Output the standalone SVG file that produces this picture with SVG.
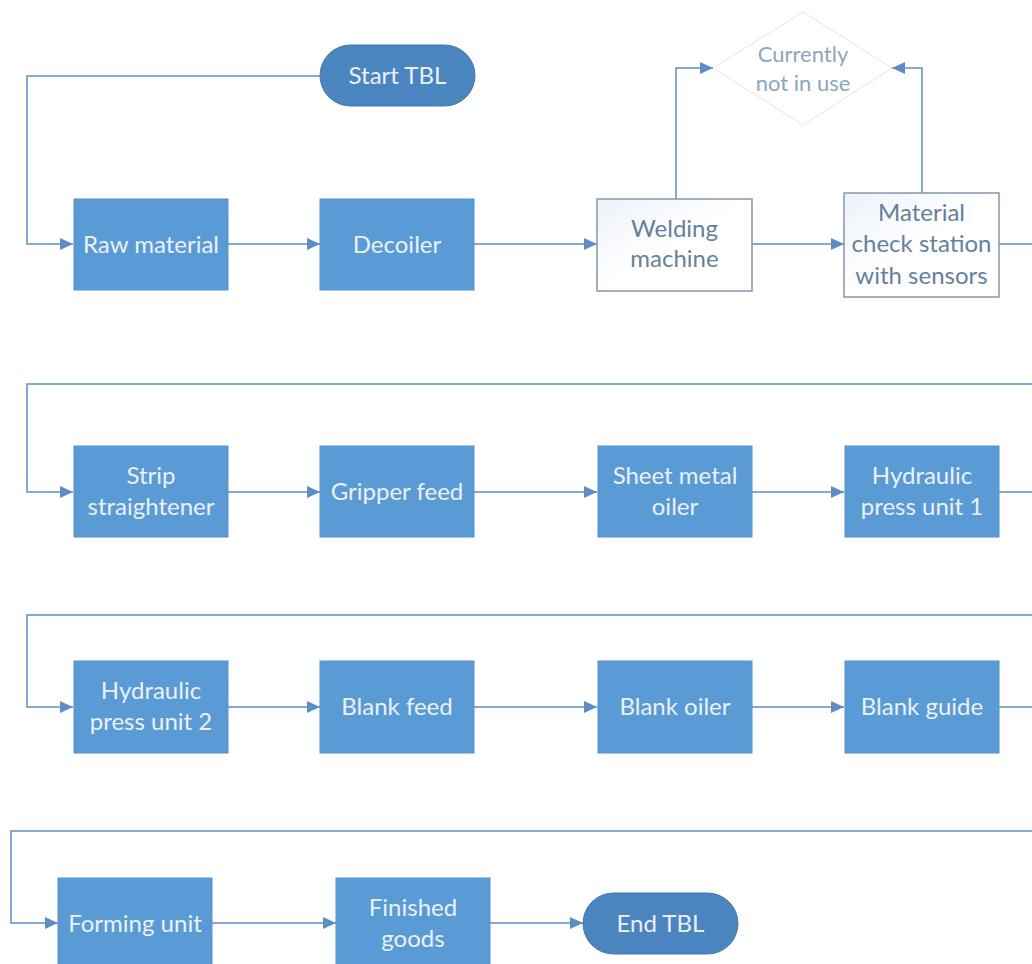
<svg xmlns="http://www.w3.org/2000/svg" width="1032" height="964" viewBox="0 0 1032 964">
  <style>
    .box { fill: #5B9BD5; stroke: #5592CC; stroke-width: 1; }
    .pill { fill: #4A85C0; stroke: #4579AE; stroke-width: 1; }
    .plain { fill: url(#paleFill); stroke: #8398B0; stroke-width: 1.5; }
    .diamond { fill: #FFFFFF; stroke: #E4E4E4; stroke-width: 1; }
    .lbl { font-family: Lato, "Liberation Sans", sans-serif; font-size: 24px; fill: #EAF1F9; text-anchor: middle; }
    .lbl-dark { font-family: Lato, "Liberation Sans", sans-serif; font-size: 24px; fill: #66809B; text-anchor: middle; }
    .lbl-faint { font-family: Lato, "Liberation Sans", sans-serif; font-size: 22px; fill: #8EA5BE; text-anchor: middle; }
    .wire { fill: none; stroke: #5B8EC4; stroke-width: 1.5; }
  </style>
  <defs>
    <linearGradient id="paleFill" x1="0" y1="0" x2="1" y2="1">
      <stop offset="0" stop-color="#EDF2FA"/>
      <stop offset="0.5" stop-color="#FFFFFF"/>
      <stop offset="1" stop-color="#FFFFFF"/>
    </linearGradient>
    <marker id="tip" viewBox="0 0 13 12" refX="13" refY="6" markerWidth="13" markerHeight="12" markerUnits="userSpaceOnUse" orient="auto">
      <path d="M0,0 L13,6 L0,12 Z" fill="#5B8EC4"/>
    </marker>
  </defs>

  <rect width="1032" height="964" fill="#FFFFFF"/>

  <!-- connectors -->
  <g id="connectors">
    <!-- row 1 -->
    <path class="wire" d="M320,76 H27 V244 H73" marker-end="url(#tip)"/>
    <path class="wire" d="M228,244 H320" marker-end="url(#tip)"/>
    <path class="wire" d="M474,244 H597" marker-end="url(#tip)"/>
    <path class="wire" d="M676,199 V68 H713" marker-end="url(#tip)"/>
    <path class="wire" d="M752,244 H844" marker-end="url(#tip)"/>
    <path class="wire" d="M922,193 V68 H892" marker-end="url(#tip)"/>
    <path class="wire" d="M999,244 H1032"/>
    <!-- row 2 -->
    <path class="wire" d="M1032,384 H27 V492 H73" marker-end="url(#tip)"/>
    <path class="wire" d="M228,492 H320" marker-end="url(#tip)"/>
    <path class="wire" d="M474,492 H597" marker-end="url(#tip)"/>
    <path class="wire" d="M752,492 H844" marker-end="url(#tip)"/>
    <path class="wire" d="M999,492 H1032"/>
    <!-- row 3 -->
    <path class="wire" d="M1032,615 H27 V707 H73" marker-end="url(#tip)"/>
    <path class="wire" d="M228,707 H320" marker-end="url(#tip)"/>
    <path class="wire" d="M474,707 H597" marker-end="url(#tip)"/>
    <path class="wire" d="M752,707 H844" marker-end="url(#tip)"/>
    <path class="wire" d="M999,707 H1032"/>
    <!-- row 4 -->
    <path class="wire" d="M1032,831 H11 V923 H58" marker-end="url(#tip)"/>
    <path class="wire" d="M212,923 H336" marker-end="url(#tip)"/>
    <path class="wire" d="M490,923 H583" marker-end="url(#tip)"/>
  </g>

  <!-- row 1 -->
  <g id="start-tbl">
    <rect class="pill" x="320" y="45" width="155" height="61" rx="30.5"/>
    <text class="lbl" x="397.5" y="84">Start TBL</text>
  </g>
  <g id="raw-material">
    <rect class="box" x="74" y="199" width="154" height="91"/>
    <text class="lbl" x="151" y="253">Raw material</text>
  </g>
  <g id="decoiler">
    <rect class="box" x="320" y="199" width="154" height="91"/>
    <text class="lbl" x="397" y="253">Decoiler</text>
  </g>
  <g id="welding-machine">
    <rect class="plain" x="597" y="199" width="155" height="92"/>
    <text class="lbl-dark" x="674.5" y="237">Welding</text>
    <text class="lbl-dark" x="674.5" y="267">machine</text>
  </g>
  <g id="not-in-use">
    <polygon class="diamond" points="803,12 892,68 803,125 713,68"/>
    <text class="lbl-faint" x="803" y="62">Currently</text>
    <text class="lbl-faint" x="803" y="91">not in use</text>
  </g>
  <g id="material-check">
    <rect class="plain" x="844" y="193" width="155" height="104"/>
    <text class="lbl-dark" x="921.5" y="221">Material</text>
    <text class="lbl-dark" x="921.5" y="252">check station</text>
    <text class="lbl-dark" x="921.5" y="284">with sensors</text>
  </g>

  <!-- row 2 -->
  <g id="strip-straightener">
    <rect class="box" x="74" y="446" width="154" height="91"/>
    <text class="lbl" x="151" y="484">Strip</text>
    <text class="lbl" x="151" y="515">straightener</text>
  </g>
  <g id="gripper-feed">
    <rect class="box" x="320" y="446" width="154" height="91"/>
    <text class="lbl" x="397" y="500">Gripper feed</text>
  </g>
  <g id="sheet-metal-oiler">
    <rect class="box" x="598" y="446" width="154" height="91"/>
    <text class="lbl" x="675" y="484">Sheet metal</text>
    <text class="lbl" x="675" y="515">oiler</text>
  </g>
  <g id="hydraulic-press-1">
    <rect class="box" x="845" y="446" width="154" height="91"/>
    <text class="lbl" x="922" y="484">Hydraulic</text>
    <text class="lbl" x="922" y="515">press unit 1</text>
  </g>

  <!-- row 3 -->
  <g id="hydraulic-press-2">
    <rect class="box" x="74" y="661" width="154" height="92"/>
    <text class="lbl" x="151" y="699">Hydraulic</text>
    <text class="lbl" x="151" y="730">press unit 2</text>
  </g>
  <g id="blank-feed">
    <rect class="box" x="320" y="661" width="154" height="92"/>
    <text class="lbl" x="397" y="715">Blank feed</text>
  </g>
  <g id="blank-oiler">
    <rect class="box" x="598" y="661" width="154" height="92"/>
    <text class="lbl" x="675" y="715">Blank oiler</text>
  </g>
  <g id="blank-guide">
    <rect class="box" x="845" y="661" width="154" height="92"/>
    <text class="lbl" x="922" y="715">Blank guide</text>
  </g>

  <!-- row 4 -->
  <g id="forming-unit">
    <rect class="box" x="58" y="878" width="154" height="92"/>
    <text class="lbl" x="135" y="932">Forming unit</text>
  </g>
  <g id="finished-goods">
    <rect class="box" x="336" y="878" width="154" height="92"/>
    <text class="lbl" x="413" y="916">Finished</text>
    <text class="lbl" x="413" y="947">goods</text>
  </g>
  <g id="end-tbl">
    <rect class="pill" x="583" y="893" width="155" height="61" rx="30.5"/>
    <text class="lbl" x="660.5" y="932">End TBL</text>
  </g>
</svg>
